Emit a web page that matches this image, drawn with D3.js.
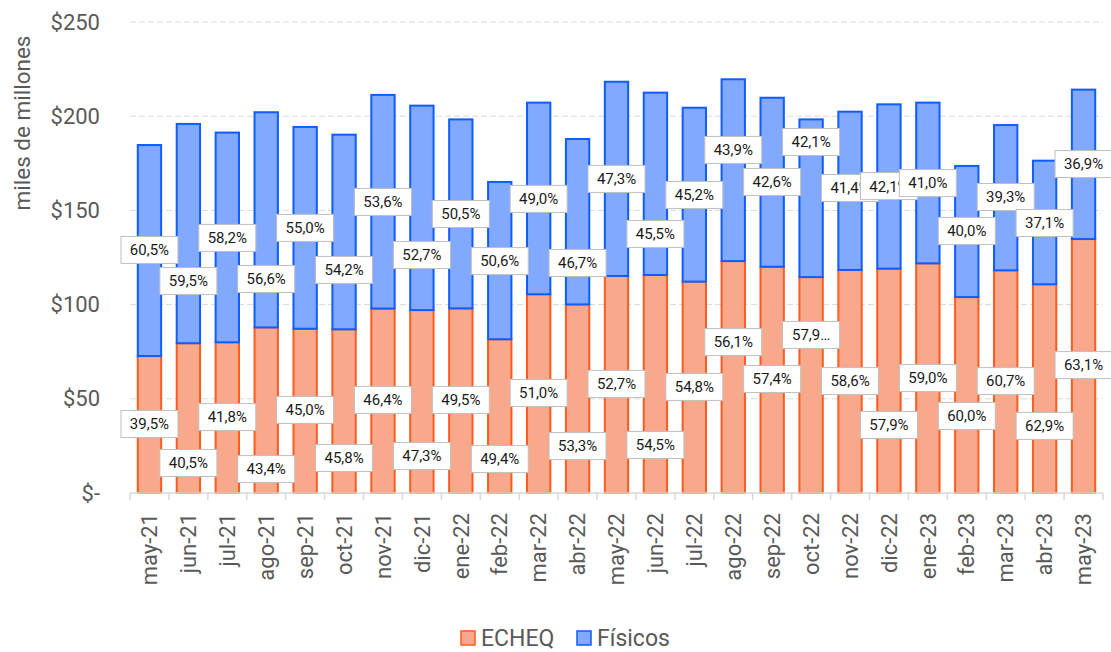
<!DOCTYPE html>
<html>
<head>
<meta charset="utf-8">
<script src="https://cdn.jsdelivr.net/npm/d3@7"></script>
<style>
  body { margin: 0; background: #fff; }
  text { font-family: Roboto, "Noto Sans", sans-serif; }
</style>
</head>
<body>
<div id="chart"></div>
<script>
// months on the x axis
var months = ["may-21","jun-21","jul-21","ago-21","sep-21","oct-21","nov-21","dic-21",
  "ene-22","feb-22","mar-22","abr-22","may-22","jun-22","jul-22","ago-22","sep-22",
  "oct-22","nov-22","dic-22","ene-23","feb-23","mar-23","abr-23","may-23"];

// miles de millones
var echeq = [72.7, 79.5, 80.0, 87.9, 87.2, 86.9, 97.9, 97.1, 98.0, 81.6, 105.5, 100.1,
  115.2, 115.7, 112.2, 123.1, 120.1, 114.6, 118.4, 119.1, 121.9, 104.0, 118.2, 110.8, 134.8];
var fisicos = [112.0, 116.4, 111.3, 114.2, 107.1, 103.3, 113.4, 108.5, 100.3, 83.5, 101.7, 87.8,
  103.1, 96.8, 92.3, 96.5, 89.7, 83.7, 84.0, 87.2, 85.3, 69.6, 77.1, 65.6, 79.3];

// data labels as shown
var echeqLabels = ["39,5%","40,5%","41,8%","43,4%","45,0%","45,8%","46,4%","47,3%","49,5%",
  "49,4%","51,0%","53,3%","52,7%","54,5%","54,8%","56,1%","57,4%","57,9…","58,6%","57,9%",
  "59,0%","60,0%","60,7%","62,9%","63,1%"];
var fisicosLabels = ["60,5%","59,5%","58,2%","56,6%","55,0%","54,2%","53,6%","52,7%","50,5%",
  "50,6%","49,0%","46,7%","47,3%","45,5%","45,2%","43,9%","42,6%","42,1%","41,4%","42,1%",
  "41,0%","40,0%","39,3%","37,1%","36,9%"];

// where each callout sits (value units, as placed in the original)
var echeqLabelAt = [36.6, 15.9, 40.3, 12.7, 44.1, 18.6, 49.4, 19.6, 49.4, 18.0, 53.1, 24.9,
  57.9, 25.5, 56.3, 80.1, 60.5, 83.9, 59.4, 36.1, 61.0, 40.9, 59.4, 35.6, 67.9];
var fisicosLabelAt = [129.0, 112.5, 135.4, 113.6, 140.7, 118.4, 154.5, 126.3, 148.1, 123.1,
  156.1, 122.1, 166.7, 137.5, 158.2, 182.1, 165.1, 186.3, 161.9, 162.9, 164.5, 139.1, 157.1,
  143.3, 174.6];

var yTicks = [0, 50, 100, 150, 200, 250];

var width = 1111, height = 652;
var margin = {top: 22, right: 8, bottom: 159, left: 130};

var svg = d3.select("#chart")
    .append("svg")
    .attr("width", width)
    .attr("height", height);

var x = d3.scaleBand()
    .domain(months)
    .range([margin.left, width - margin.right])
    .paddingInner(0.4)
    .paddingOuter(0.2);

var y = d3.scaleLinear()
    .domain([0, 250])
    .range([height - margin.bottom, margin.top]);

// gridlines
svg.append("g")
    .selectAll("line")
    .data(yTicks.filter(function(d) { return d > 0; }))
    .enter()
    .append("line")
    .attr("x1", margin.left)
    .attr("x2", width - margin.right)
    .attr("y1", function(d) { return y(d); })
    .attr("y2", function(d) { return y(d); })
    .style("stroke", "#d9d9d9")
    .style("stroke-width", 1)
    .style("stroke-dasharray", "6,3");

// y axis labels
var yAxis = svg.append("g")
    .attr("transform", "translate(" + (margin.left - 30) + ",0)")
    .call(d3.axisLeft(y).tickValues(yTicks).tickSize(0)
      .tickFormat(function(d) { return d === 0 ? "$-" : "$" + d; }));
yAxis.select(".domain").remove();
yAxis.selectAll("text")
    .attr("x", 0)
    .style("font-size", "22px")
    .style("fill", "#595959");

svg.append("text")
    .attr("transform", "translate(30,123) rotate(-90)")
    .attr("text-anchor", "middle")
    .style("font-size", "22.5px")
    .style("fill", "#595959")
    .text("miles de millones");

// stacked bars
var rows = months.map(function(m, i) {
  return {month: m, ECHEQ: echeq[i], Fisicos: fisicos[i]};
});
var stack = d3.stack().keys(["ECHEQ", "Fisicos"])(rows);
var fills = {ECHEQ: "#f9a98b", Fisicos: "#80a9ff"};
var strokes = {ECHEQ: "#ff5a1f", Fisicos: "#0f5dff"};

svg.append("g")
    .selectAll("g")
    .data(stack)
    .enter()
    .append("g")
    .style("fill", function(d) { return fills[d.key]; })
    .style("stroke", function(d) { return strokes[d.key]; })
    .style("stroke-width", 2)
    .selectAll("rect")
    .data(function(d) { return d; })
    .enter()
    .append("rect")
    .attr("x", function(d) { return x(d.data.month); })
    .attr("width", x.bandwidth())
    .attr("y", function(d) { return y(d[1]); })
    .attr("height", function(d) { return y(d[0]) - y(d[1]); });

// x axis
var xAxis = svg.append("g")
    .attr("transform", "translate(0," + y(0) + ")");
xAxis.append("line")
    .attr("x1", margin.left)
    .attr("x2", width - margin.right)
    .style("stroke", "#d9d9d9")
    .style("stroke-width", 1.5);
xAxis.selectAll(".tk")
    .data(d3.range(months.length + 1))
    .enter()
    .append("line")
    .attr("class", "tk")
    .attr("x1", function(i) { return margin.left + i * x.step(); })
    .attr("x2", function(i) { return margin.left + i * x.step(); })
    .attr("y1", 0)
    .attr("y2", 7)
    .style("stroke", "#d9d9d9")
    .style("stroke-width", 1.5);
xAxis.selectAll(".lbl")
    .data(months)
    .enter()
    .append("text")
    .attr("class", "lbl")
    .attr("transform", function(d) {
      return "translate(" + (x(d) + x.bandwidth() / 2) + ",20) rotate(-90)";
    })
    .attr("text-anchor", "end")
    .attr("dy", "0.35em")
    .style("font-size", "22px")
    .style("fill", "#595959")
    .text(function(d) { return d; });

// data callouts
function addLabels(texts, at) {
  var g = svg.append("g")
      .selectAll("g")
      .data(months)
      .enter()
      .append("g")
      .attr("transform", function(d, i) {
        return "translate(" + (x(d) + x.bandwidth() / 2) + "," + y(at[i]) + ")";
      });
  g.append("rect")
      .attr("x", -28.5)
      .attr("y", -13.5)
      .attr("width", 57)
      .attr("height", 27)
      .style("fill", "#fff")
      .style("stroke", "#bfbfbf")
      .style("stroke-width", 1);
  g.append("text")
      .attr("text-anchor", "middle")
      .attr("dy", "0.36em")
      .style("font-size", "15px")
      .style("fill", "#1a1a1a")
      .text(function(d, i) { return texts[i]; });
}
addLabels(echeqLabels, echeqLabelAt);
addLabels(fisicosLabels, fisicosLabelAt);

// legend
var legend = svg.append("g").attr("transform", "translate(0,638)");
var items = [{key: "ECHEQ", label: "ECHEQ", x: 461}, {key: "Fisicos", label: "Físicos", x: 577}];
var li = legend.selectAll("g")
    .data(items)
    .enter()
    .append("g")
    .attr("transform", function(d) { return "translate(" + d.x + ",0)"; });
li.append("rect")
    .attr("x", 0)
    .attr("y", -7)
    .attr("width", 14)
    .attr("height", 14)
    .style("fill", function(d) { return fills[d.key]; })
    .style("stroke", function(d) { return strokes[d.key]; })
    .style("stroke-width", 1.5);
li.append("text")
    .attr("x", 20)
    .attr("dy", "0.35em")
    .style("font-size", "23px")
    .style("fill", "#595959")
    .text(function(d) { return d.label; });
</script>
</body>
</html>
